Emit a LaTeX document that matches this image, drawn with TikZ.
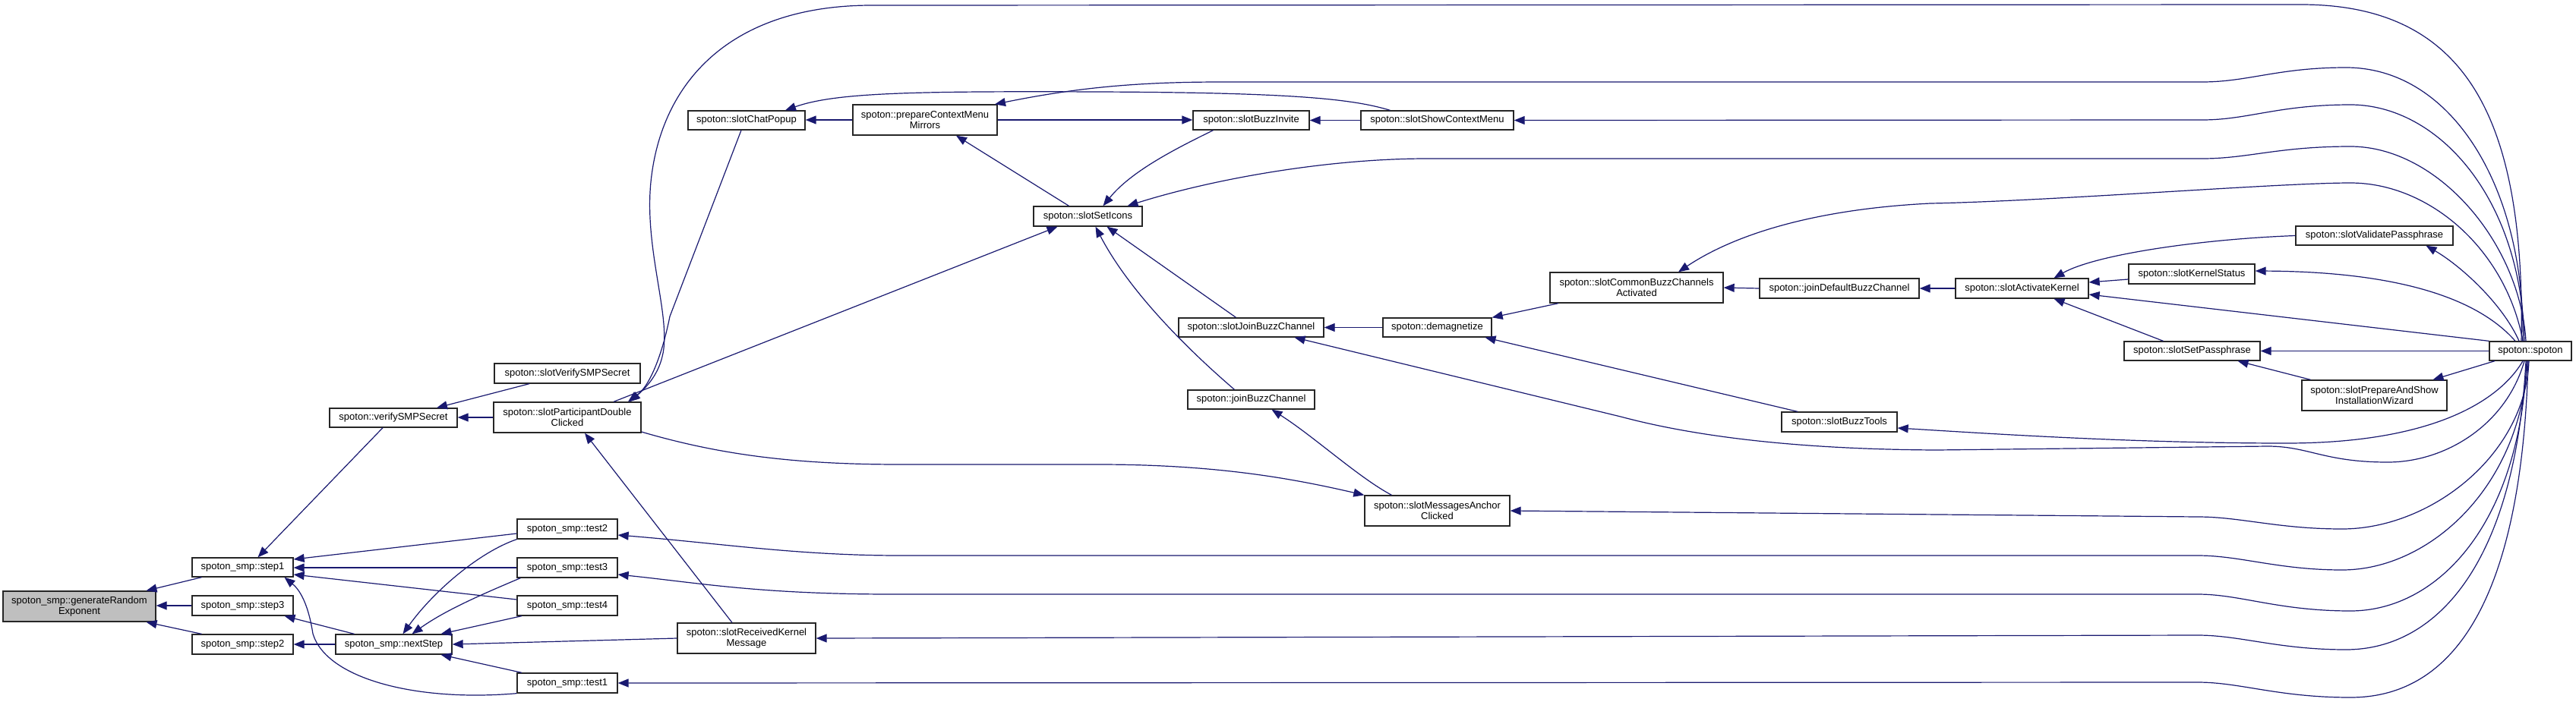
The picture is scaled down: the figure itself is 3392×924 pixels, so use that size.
\documentclass[tikz,border=0pt]{standalone}
\usepackage{fontspec}
\setmainfont{Liberation Sans}
\usetikzlibrary{arrows.meta}
\definecolor{edgecol}{HTML}{191970}
\definecolor{boxgray}{HTML}{BFBFBF}
\begin{document}
\begin{tikzpicture}[x=1pt,y=-1pt,
  nbox/.style={draw=black!85, line width=1.3pt, fill=white, inner sep=0pt, align=center,
    font=\fontsize{13}{14.5}\selectfont},
  cedge/.style={draw=edgecol, line width=1.2pt, -{Triangle[length=14pt,width=11pt]}}]
\fill[white] (0,0) rectangle (3392,924);
\useasboundingbox (0,0) rectangle (3392,924);

% nodes
\node[nbox, fill=boxgray, minimum width=201pt, minimum height=40pt] (gre) at (104.5,799) {spoton\_smp::generateRandom\\Exponent};
\node[nbox, minimum width=133pt, minimum height=25pt] (step1) at (319.5,747.5) {spoton\_smp::step1};
\node[nbox, minimum width=133pt, minimum height=26pt] (step3) at (319.5,798) {spoton\_smp::step3};
\node[nbox, minimum width=133pt, minimum height=26pt] (step2) at (319.5,849) {spoton\_smp::step2};
\node[nbox, minimum width=168pt, minimum height=25pt] (verify) at (518,550.5) {spoton::verifySMPSecret};
\node[nbox, minimum width=192pt, minimum height=26pt] (slotVerify) at (747,492) {spoton::slotVerifySMPSecret};
\node[nbox, minimum width=194pt, minimum height=40pt] (spdc) at (747,550) {spoton::slotParticipantDouble\\Clicked};
\node[nbox, minimum width=132pt, minimum height=26pt] (test2) at (747,697) {spoton\_smp::test2};
\node[nbox, minimum width=132pt, minimum height=26pt] (test3) at (747,748) {spoton\_smp::test3};
\node[nbox, minimum width=132pt, minimum height=26pt] (test4) at (747,798) {spoton\_smp::test4};
\node[nbox, minimum width=132pt, minimum height=26pt] (test1) at (747,900) {spoton\_smp::test1};
\node[nbox, minimum width=153pt, minimum height=26pt] (nextStep) at (518.5,849) {spoton\_smp::nextStep};
\node[nbox, minimum width=154pt, minimum height=25pt] (chatPopup) at (983,158.5) {spoton::slotChatPopup};
\node[nbox, minimum width=190pt, minimum height=40pt] (pcmm) at (1218,158) {spoton::prepareContextMenu\\Mirrors};
\node[nbox, minimum width=153pt, minimum height=25pt] (buzzInvite) at (1647.5,158.5) {spoton::slotBuzzInvite};
\node[nbox, minimum width=143pt, minimum height=26pt] (setIcons) at (1432.5,285) {spoton::slotSetIcons};
\node[nbox, minimum width=191pt, minimum height=25pt] (joinBuzzSlot) at (1647.5,431.5) {spoton::slotJoinBuzzChannel};
\node[nbox, minimum width=167pt, minimum height=25pt] (joinBuzz) at (1647.5,526.5) {spoton::joinBuzzChannel};
\node[nbox, minimum width=182pt, minimum height=40pt] (recv) at (983,841) {spoton::slotReceivedKernel\\Message};
\node[nbox, minimum width=201pt, minimum height=25pt] (showCtx) at (1892.5,158.5) {spoton::slotShowContextMenu};
\node[nbox, minimum width=228pt, minimum height=40pt] (commonBuzz) at (2155,379) {spoton::slotCommonBuzzChannels\\Activated};
\node[nbox, minimum width=210pt, minimum height=26pt] (joinDefault) at (2422,380) {spoton::joinDefaultBuzzChannel};
\node[nbox, minimum width=143pt, minimum height=25pt] (demag) at (1892.5,431.5) {spoton::demagnetize};
\node[nbox, minimum width=152pt, minimum height=26pt] (buzzTools) at (2422,556) {spoton::slotBuzzTools};
\node[nbox, minimum width=191pt, minimum height=40pt] (msgAnchor) at (1892.5,673) {spoton::slotMessagesAnchor\\Clicked};
\node[nbox, minimum width=207pt, minimum height=25pt] (validate) at (3126.5,310.5) {spoton::slotValidatePassphrase};
\node[nbox, minimum width=166pt, minimum height=26pt] (kernelStatus) at (2886,361) {spoton::slotKernelStatus};
\node[nbox, minimum width=175pt, minimum height=26pt] (activateKernel) at (2662.5,380) {spoton::slotActivateKernel};
\node[nbox, minimum width=179pt, minimum height=25pt] (setPass) at (2886.5,462.5) {spoton::slotSetPassphrase};
\node[nbox, minimum width=108pt, minimum height=25pt] (spoton) at (3332,462.5) {spoton::spoton};
\node[nbox, minimum width=191pt, minimum height=40pt] (wizard) at (3126.5,521) {spoton::slotPrepareAndShow\\InstallationWizard};

% edges (arrow head at the called function)
\draw[cedge] ([xshift=-54]step1.south) -- ([xshift=88]gre.north);
\draw[cedge] (step3.west) -- (step3.west -| gre.east);
\draw[cedge] ([xshift=-54]step2.north) -- ([xshift=88]gre.south);
\draw[cedge] ([xshift=-14]verify.south) -- ([xshift=20]step1.north);
\draw[cedge] ([yshift=-6]test2.west) -- ([yshift=10.5]step1.east);
\draw[cedge] (test3.west) -- (test3.west -| step1.east);
\draw[cedge] ([yshift=8]test4.west) -- ([yshift=-9.5]step1.east);
\draw[cedge] (test1.south west) .. controls (550,925) and (430,895) .. (412,835) .. controls (405,790) and (392,775) .. ([xshift=55]step1.south);
\draw[cedge] ([xshift=-52]nextStep.north) -- ([xshift=55]step3.south);
\draw[cedge] (nextStep.west) -- (step2.east);
\draw[cedge] ([xshift=-50]slotVerify.south) -- ([xshift=57]verify.north);
\draw[cedge] (spdc.west) -- (spdc.west -| verify.east);
\draw[cedge] (test2.south west) .. controls (630,728) and (570,780) .. ([xshift=12]nextStep.north);
\draw[cedge] ([xshift=5]test3.south west) .. controls (630,785) and (585,805) .. ([xshift=24]nextStep.north);
\draw[cedge] ([xshift=-60]test4.south) -- ([xshift=62]nextStep.north);
\draw[cedge] ([xshift=-60]test1.north) -- ([xshift=62]nextStep.south);
\draw[cedge] (recv.west) -- (nextStep.east);
\draw[cedge] ([xshift=-19]recv.north) -- ([xshift=23]spdc.south);
\draw[cedge] ([xshift=-7]chatPopup.south) -- (882,417) .. controls (873,462) and (858,505) .. ([xshift=82]spdc.north);
\draw[cedge] ([xshift=-12]spoton.north) .. controls (3325,160) and (3250,6) .. (3030,6) -- (1148,7) .. controls (960,7) and (870,110) .. (857,240) .. controls (848,330) and (885,420) .. (872,470) .. controls (866,495) and (850,512) .. ([xshift=80]spdc.north);
\draw[cedge] ([xshift=61]spdc.north) -- ([xshift=-40]setIcons.south);
\draw[cedge] (pcmm.west) -- (pcmm.west -| chatPopup.east);
\draw[cedge] ([xshift=-62]showCtx.north) .. controls (1780,130) and (1700,122) .. (1446,121) .. controls (1200,120) and (1100,122) .. ([xshift=51]chatPopup.north);
\draw[cedge] (pcmm.east) -- (pcmm.east -| buzzInvite.west);
\draw[cedge] ([xshift=-10]spoton.north) .. controls (3325,250) and (3230,89) .. (3089,89) .. controls (3000,89) and (2960,108) .. (2900,108) -- (1609,108) .. controls (1500,108) and (1420,115) .. ([xshift=92]pcmm.north);
\draw[cedge] (showCtx.west) -- (buzzInvite.east);
\draw[cedge] ([xshift=-8]spoton.north) .. controls (3320,260) and (3210,138) .. (3095,138) .. controls (3000,138) and (2960,158) .. (2900,158) -- (showCtx.east);
\draw[cedge] ([xshift=-50]buzzInvite.south) .. controls (1550,195) and (1490,225) .. ([xshift=20]setIcons.north);
\draw[cedge] ([xshift=-6]spoton.north) .. controls (3318,320) and (3210,193) .. (3095,193) .. controls (3000,193) and (2960,209) .. (2900,209) -- (1879,209) .. controls (1750,209) and (1600,235) .. ([xshift=52]setIcons.north);
\draw[cedge] ([xshift=-25]setIcons.north) -- ([xshift=41]pcmm.south);
\draw[cedge] ([xshift=-20]joinBuzzSlot.north) -- ([xshift=25]setIcons.south);
\draw[cedge] ([xshift=-22]joinBuzz.north) .. controls (1575,470) and (1490,390) .. ([xshift=10]setIcons.south);
\draw[cedge] ([xshift=-60]msgAnchor.north) .. controls (1790,630) and (1730,575) .. ([xshift=27]joinBuzz.south);
\draw[cedge] ([yshift=-19]spdc.east) .. controls (950,600) and (1050,612) .. (1186,612) -- (1446,612) .. controls (1600,612) and (1700,630) .. (msgAnchor.north west);
\draw[cedge] ([xshift=-2]spoton.south) .. controls (3325,600) and (3200,697) .. (3084,697) .. controls (3000,697) and (2950,681) .. (2894,681) -- (msgAnchor.east);
\draw[cedge] ([xshift=-4]spoton.south) .. controls (3320,640) and (3200,751) .. (3084,751) .. controls (3000,751) and (2950,732) .. (2894,732) -- (1186,732) .. controls (1050,732) and (950,716) .. ([yshift=-8]test2.east);
\draw[cedge] ([xshift=-5]spoton.south) .. controls (3318,690) and (3210,805) .. (3095,805) .. controls (3000,805) and (2950,783) .. (2894,783) -- (1175,783) .. controls (1000,783) and (920,768) .. ([yshift=-9]test3.east);
\draw[cedge] ([xshift=-6]spoton.south) .. controls (3312,740) and (3210,856) .. (3089,856) .. controls (3000,856) and (2950,837) .. (2894,837) -- (recv.east);
\draw[cedge] ([xshift=-3]spoton.south) .. controls (3320,810) and (3220,919) .. (3095,919) .. controls (3000,919) and (2950,899) .. (2894,899) -- (test1.east);
\draw[cedge] ([xshift=-10]spoton.south) .. controls (3290,530) and (3200,584) .. (3010,584) .. controls (2800,584) and (2600,570) .. ([yshift=-8]buzzTools.east);
\draw[cedge] ([xshift=-8]spoton.south) .. controls (3300,560) and (3220,609) .. (3144,609) .. controls (3060,609) and (3040,588) .. (2986,588) -- (2550,593) .. controls (2350,592) and (2220,572) .. (2134,549) -- ([xshift=57]joinBuzzSlot.south);
\draw[cedge] ([xshift=-55]buzzTools.north) -- ([xshift=63]demag.south);
\draw[cedge] ([xshift=-103]commonBuzz.south) -- (demag.north east);
\draw[cedge] (demag.west) -- (joinBuzzSlot.east);
\draw[cedge] ([xshift=-10]spoton.north) .. controls (3300,330) and (3200,241) .. (3095,241) .. controls (3000,241) and (2700,265) .. (2542,268) .. controls (2400,275) and (2290,305) .. ([xshift=55]commonBuzz.north);
\draw[cedge] (joinDefault.west) -- (commonBuzz.east);
\draw[cedge] (activateKernel.west) -- (joinDefault.east);
\draw[cedge] (validate.west) .. controls (2900,315) and (2760,335) .. ([xshift=42]activateKernel.north);
\draw[cedge] ([yshift=-7]kernelStatus.west) -- ([yshift=8]activateKernel.east);
\draw[cedge] (spoton.north west) -- ([yshift=-8]activateKernel.east);
\draw[cedge] ([xshift=-38]setPass.north) -- ([xshift=42]activateKernel.south);
\draw[cedge] ([xshift=-15]spoton.north) .. controls (3295,400) and (3240,350) .. ([xshift=68]validate.south);
\draw[cedge] ([xshift=-20]spoton.north) .. controls (3260,390) and (3150,358) .. ([yshift=4]kernelStatus.east);
\draw[cedge] (spoton.west) -- (setPass.east);
\draw[cedge] ([xshift=-84]wizard.north) -- ([xshift=60]setPass.south);
\draw[cedge] ([xshift=-47]spoton.south) -- ([xshift=77]wizard.north);
\end{tikzpicture}
\end{document}
